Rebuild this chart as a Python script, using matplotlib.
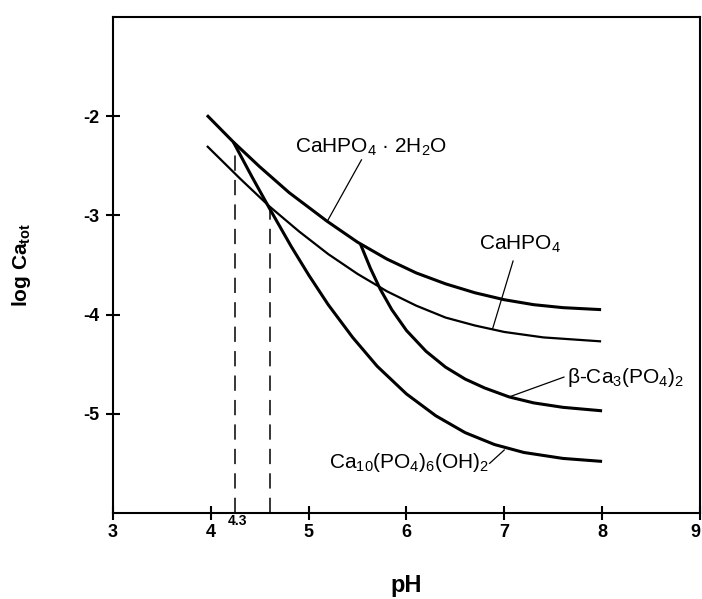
import matplotlib
matplotlib.use("Agg")
import matplotlib.pyplot as plt

plt.rcParams["font.family"] = ["Liberation Sans", "DejaVu Sans"]
plt.rcParams["mathtext.fontset"] = "custom"
plt.rcParams["mathtext.rm"] = "Liberation Sans"
plt.rcParams["mathtext.it"] = "Liberation Sans:italic"
plt.rcParams["mathtext.bf"] = "Liberation Sans:bold"
plt.rcParams["axes.unicode_minus"] = False

# --- data (pH, log Ca_tot) ---
dcpd_ph = [3.96, 4.23, 4.50, 4.80, 5.19, 5.50, 5.80, 6.10, 6.40, 6.70, 7.00, 7.30, 7.60, 7.99]
dcpd_y = [-1.99, -2.26, -2.51, -2.77, -3.06, -3.27, -3.44, -3.58, -3.69, -3.78, -3.85, -3.90, -3.93, -3.95]

dcpa_ph = [3.96, 4.30, 4.60, 4.90, 5.20, 5.50, 5.80, 6.10, 6.40, 6.70, 7.00, 7.40, 7.99]
dcpa_y = [-2.30, -2.63, -2.91, -3.16, -3.39, -3.59, -3.765, -3.91, -4.03, -4.11, -4.175, -4.23, -4.27]

tcp_ph = [5.53, 5.63, 5.73, 5.85, 6.00, 6.20, 6.40, 6.60, 6.80, 7.05, 7.30, 7.60, 8.00]
tcp_y = [-3.29, -3.53, -3.74, -3.95, -4.16, -4.37, -4.53, -4.65, -4.74, -4.83, -4.89, -4.935, -4.97]

hap_ph = [4.23, 4.42, 4.60, 4.82, 5.00, 5.20, 5.45, 5.70, 6.00, 6.30, 6.60, 6.90, 7.20, 7.60, 8.00]
hap_y = [-2.26, -2.61, -2.93, -3.31, -3.60, -3.90, -4.23, -4.52, -4.80, -5.02, -5.19, -5.31, -5.39, -5.45, -5.48]

# singular points (dashed drop lines)
drop_ph = [4.25, 4.61]
drop_y = [-2.31, -2.94]

x_ticks = [3, 4, 5, 6, 7, 8, 9]
y_ticks = [-5, -4, -3, -2]

# label text, text position, pointer start, pointer end on curve
labels = [
    ("CaHPO$_4$ · 2H$_2$O", (4.86, -2.37), (5.54, -2.44), (5.19, -3.06)),
    ("CaHPO$_4$", (6.745, -3.35), (7.09, -3.46), (6.88, -4.145)),
    ("β-Ca$_3$(PO$_4$)$_2$", (7.64, -4.69), (7.61, -4.63), (7.05, -4.83)),
    ("Ca$_{10}$(PO$_4$)$_6$(OH)$_2$", (5.21, -5.55), (6.85, -5.50), (7.00, -5.365)),
]

fig = plt.figure(figsize=(7.02, 5.99), dpi=100)
ax = fig.add_axes([0.161, 0.1436, 0.836, 0.828])

for xs, ys, w in [(dcpd_ph, dcpd_y, 2.2), (dcpa_ph, dcpa_y, 1.6),
                  (tcp_ph, tcp_y, 2.2), (hap_ph, hap_y, 2.2)]:
    ax.plot(xs, ys, color="black", lw=w, solid_capstyle="butt", solid_joinstyle="round")

for xp, yp in zip(drop_ph, drop_y):
    ax.plot([xp, xp], [-6, yp], color="black", lw=1.1, dashes=(10, 6))

for txt, tpos, p0, p1 in labels:
    ax.text(tpos[0], tpos[1], txt, fontsize=15, ha="left", va="baseline")
    ax.plot([p0[0], p1[0]], [p0[1], p1[1]], color="black", lw=0.9)

ax.annotate("4.3", xy=(4.27, -6), xytext=(0, -1), textcoords="offset points",
            ha="center", va="top", fontsize=10, fontweight="bold")

ax.set_xlim(3, 9)
ax.set_ylim(-6, -1)
ax.set_xticks(x_ticks)
ax.set_yticks(y_ticks)
ax.set_xticklabels([str(v) for v in x_ticks], fontsize=13, fontweight="bold")
ax.set_yticklabels([str(v) for v in y_ticks], fontsize=13, fontweight="bold")
ax.get_xticklabels()[-1].set_horizontalalignment("right")
ax.tick_params(direction="inout", length=10, width=1.5, pad=3)
ax.tick_params(axis="y", pad=5)

for s in ax.spines.values():
    s.set_linewidth(1.5)

ax.set_xlabel("pH", fontsize=17, fontweight="bold", labelpad=24)
ax.set_ylabel("log Ca$_{\\mathbf{tot}}$", fontsize=15, fontweight="bold", labelpad=36)

fig.savefig("out.png", dpi=100)
